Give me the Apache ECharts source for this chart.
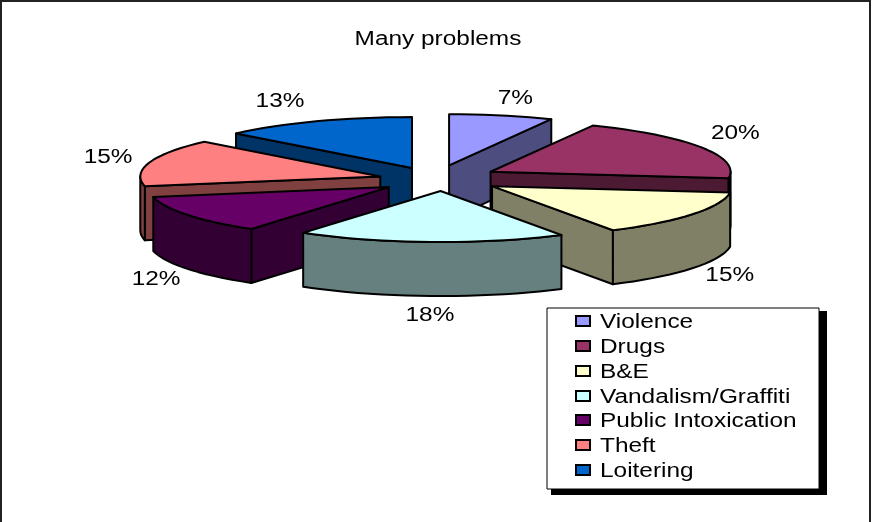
<!DOCTYPE html>
<html><head><meta charset="utf-8">
<style>html,body{margin:0;padding:0;background:#fff}#c{width:873px;height:522px}</style>
<script src="https://cdn.jsdelivr.net/npm/echarts@6/dist/echarts.min.js"></script>
</head><body><div id="c"></div>
<script>
const chartTitle = 'Many problems';
const categories = ['Violence','Drugs','B&E','Vandalism/Graffiti','Public Intoxication','Theft','Loitering'];
const values = [7, 20, 14.6, 18.1, 12.2, 15, 13.1];
const topColors = ['#9999FF','#993366','#FFFFCC','#CCFFFF','#660066','#FF8080','#0066CC'];
const sideColors = ['#4D4D80','#4D1A33','#808066','#668080','#330033','#804040','#003366'];
const drawOrder = [6,0,5,1,4,2,3];

// layout of the projected pie
const CX = 439, CY = 178, RX = 240, RY = 51, DEPTH = 54, EX = 60, EY = 13;
const LX = 345, LY = 84;
const sliceNudge = [[-3,0],[-1,0],[3,1],[4,0],[0,2],[-1,2],[-3,2]];
const labelNudge = [[1,1],[-6,-5],[3,-4],[5,-1],[6,1],[1,1],[-21,-1]];
const FONT_SIZE = 20, STRETCH = 1.22;

const total = values.reduce((a,b)=>a+b,0);
const starts = []; let run = 0;
values.forEach(v => { starts.push(run/total*360); run += v; });
const rad = d => d*Math.PI/180;

function stretchedText(text, x, y, align) {
  return {type:'text', x, y:y+1, scaleX:STRETCH, silent:true,
    style:{text, fill:'#000', font:FONT_SIZE+'px "Liberation Sans", Arial, sans-serif',
           textAlign:align, textVerticalAlign:'middle'}};
}

function renderSlice(params, api) {
  const i = api.value(0);
  const a1 = starts[i], a2 = a1 + values[i]/total*360, mid = (a1+a2)/2;
  const ox = CX + EX*Math.sin(rad(mid)) + sliceNudge[i][0], oy = CY - EY*Math.cos(rad(mid)) + sliceNudge[i][1];
  const pt = (deg, dz) => [ox + RX*Math.sin(rad(deg)), oy - RY*Math.cos(rad(deg)) + (dz||0)];
  const arc = (from, to, dz) => {
    const out = [], n = Math.max(2, Math.ceil((to-from)/3));
    for (let k=0;k<=n;k++) out.push(pt(from+(to-from)*k/n, dz));
    return out;
  };
  const strokeStyle = fill => ({fill, stroke:'#000', lineWidth:2, lineJoin:'round'});
  const kids = [];
  const poly = (points, fill) => kids.push({type:'polygon', shape:{points}, style:strokeStyle(fill), silent:true});
  const apex = [ox,oy], apexB = [ox,oy+DEPTH];
  if (Math.sin(rad(a2)) > 0.001) {
    const e = pt(a2), eB = pt(a2,DEPTH);
    poly([apex,e,eB,apexB], sideColors[i]);
  }
  if (Math.sin(rad(a1)) < -0.001) {
    const s = pt(a1), sB = pt(a1,DEPTH);
    poly([apex,s,sB,apexB], sideColors[i]);
  }
  const wFrom = Math.max(a1,90), wTo = Math.min(a2,270);
  if (wTo > wFrom) {
    poly(arc(wFrom,wTo,0).concat(arc(wFrom,wTo,DEPTH).reverse()), sideColors[i]);
  }
  poly([apex].concat(arc(a1,a2,0)), topColors[i]);
  return {type:'group', children:kids};
}

function renderLabels() {
  return values.map((v,i) => {
    const mid = starts[i] + v/total*180;
    const c = Math.cos(rad(mid));
    const x = CX + LX*Math.sin(rad(mid)) + labelNudge[i][0];
    const y = CY - LY*c + (c<0?DEPTH:0) + labelNudge[i][1];
    return stretchedText(Math.round(v)+'%', x, y, 'center');
  });
}

const legendRowY = [321,346,371,396,420,445,470];
const legendEls = [
  {type:'rect', shape:{x:551,y:311,width:276,height:184}, style:{fill:'#000'}, silent:true},
  {type:'rect', shape:{x:547,y:308,width:272,height:181}, style:{fill:'#fff',stroke:'#000',lineWidth:1}, silent:true}
];
categories.forEach((name,i) => {
  legendEls.push({type:'rect', shape:{x:576,y:legendRowY[i]-5,width:14,height:10},
    style:{fill:topColors[i],stroke:'#000',lineWidth:2}, silent:true});
  legendEls.push(stretchedText(name, 600, legendRowY[i], 'left'));
});

const chart = echarts.init(document.getElementById('c'), null, {renderer:'canvas'});
chart.setOption({
  animation:false,
  backgroundColor:'#fff',
  graphic:{elements:[
    {type:'rect', z:0, shape:{x:1,y:1,width:869,height:530}, style:{fill:'#fff',stroke:'#222',lineWidth:2}, silent:true},
    Object.assign(stretchedText(chartTitle, 438, 38, 'center'), {z:5}),
    {type:'group', z:5, children:renderLabels()},
    {type:'group', z:6, children:legendEls}
  ]},
  series:[{
    type:'custom', coordinateSystem:'none', z:2, silent:true,
    data:drawOrder.map(i=>[i]),
    renderItem:renderSlice
  }]
});
</script></body></html>
